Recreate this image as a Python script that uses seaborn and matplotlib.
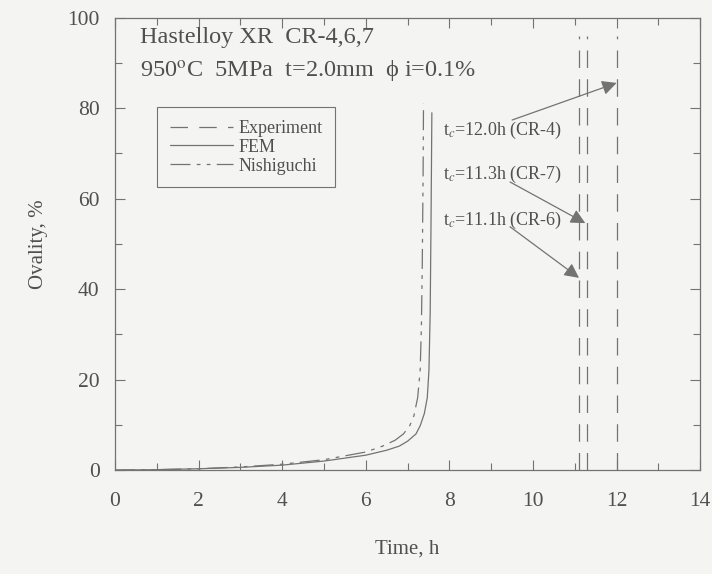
import numpy as np
import pandas as pd
import seaborn as sns
import matplotlib.pyplot as plt
from matplotlib.ticker import MultipleLocator

# Data
fem_t = [0, 1, 2, 3, 4, 5, 6, 6.5, 6.8, 7.0, 7.2, 7.3, 7.4, 7.47, 7.51, 7.54, 7.56, 7.58]
fem_ov = [0, 0.1, 0.3, 0.6, 1.1, 2.0, 3.3, 4.4, 5.3, 6.4, 8.0, 9.8, 12.5, 16, 22, 35, 55, 79]
nishi_t = [0, 1, 2, 3, 4, 5, 6, 6.4, 6.7, 6.9, 7.05, 7.15, 7.24, 7.3, 7.33, 7.35, 7.37, 7.38]
nishi_ov = [0, 0.1, 0.3, 0.7, 1.3, 2.3, 4.0, 5.3, 6.6, 8.0, 9.8, 12, 16, 22, 32, 45, 65, 81]
exp_t = [11.1, 11.3, 12.0]
exp_top = 96
exp_labels = ['t$_c$=12.0h (CR-4)', 't$_c$=11.3h (CR-7)', 't$_c$=11.1h (CR-6)']
label_y = [75, 65.3, 55.3]
arrow_tail = [(9.5, 77.4), (9.45, 63.7), (9.45, 53.8)]
arrow_tip = [(12.0, 85.6), (11.25, 54.6), (11.1, 42.5)]

sns.set_style('ticks')
plt.rcParams['font.family'] = ['Liberation Serif', 'DejaVu Serif']
plt.rcParams['mathtext.fontset'] = 'stix'

gray = '#737373'
txt = '#505050'

fig = plt.figure(figsize=(7.12, 5.74), dpi=100, facecolor='#f4f4f2')
ax = fig.add_axes([0.1615, 0.181, 0.822, 0.788])
ax.set_facecolor('#f4f4f2')

df_fem = pd.DataFrame({'t': fem_t, 'ov': fem_ov})
df_nis = pd.DataFrame({'t': nishi_t, 'ov': nishi_ov})

for i, t in enumerate(exp_t):
    sns.lineplot(x=[t, t], y=[0, exp_top], ax=ax, color=gray, lw=0.9,
                 estimator=None, sort=False, linestyle=(0, (14, 9)),
                 label='Experiment' if i == 0 else None)
sns.lineplot(data=df_fem, x='t', y='ov', sort=False, estimator=None, ax=ax,
             color=gray, lw=0.9, label='FEM')
sns.lineplot(data=df_nis, x='t', y='ov', sort=False, estimator=None, ax=ax,
             color=gray, lw=0.9, linestyle=(0, (16, 5, 3, 5, 3, 5)),
             label='Nishiguchi')

ax.set_xlim(0, 14)
ax.set_ylim(0, 100)
ax.xaxis.set_major_locator(MultipleLocator(2))
ax.xaxis.set_minor_locator(MultipleLocator(1))
ax.yaxis.set_major_locator(MultipleLocator(20))
ax.yaxis.set_minor_locator(MultipleLocator(10))
ax.tick_params(which='both', direction='in', top=True, right=True, colors=gray,
               labelcolor=txt, labelsize=15.5)
ax.tick_params(which='major', length=7, width=0.8)
ax.tick_params(which='minor', length=5, width=0.8)
ax.tick_params(axis='x', pad=16)
ax.tick_params(axis='y', pad=11)
for s in ax.spines.values():
    s.set_color(gray)
    s.set_linewidth(0.9)

ax.set_xlabel('Time, h', fontsize=15, color=txt, labelpad=20)
ax.set_ylabel('Ovality, %', fontsize=15, color=txt, labelpad=14)

ax.text(0.6, 95.6, 'Hastelloy XR  CR-4,6,7', fontsize=17.5, color=txt, va='center')
ax.text(0.6, 88.0, '950$^{\\rm o}$C  5MPa  t=2.0mm  \u03d5 i=0.1%', fontsize=17.5,
        color=txt, va='center')

for lab, y, tail, tip in zip(exp_labels, label_y, arrow_tail, arrow_tip):
    ax.text(7.85, y, lab, fontsize=13, color=txt, va='center')
    ax.annotate('', xy=tip, xytext=tail,
                arrowprops=dict(arrowstyle='-|>', color=gray, lw=0.9,
                                mutation_scale=22, shrinkA=0, shrinkB=0))

leg = ax.legend(loc='upper left', bbox_to_anchor=(0.072, 0.802), fontsize=13,
                frameon=True, fancybox=False, edgecolor=gray, facecolor='#f4f4f2',
                handlelength=3.5, handletextpad=0.3, borderpad=0.7,
                labelspacing=0.1, framealpha=1, borderaxespad=0)
leg.get_frame().set_linewidth(0.8)
for t in leg.get_texts():
    t.set_color(txt)

fig.savefig('out.png', dpi=100, facecolor=fig.get_facecolor())
